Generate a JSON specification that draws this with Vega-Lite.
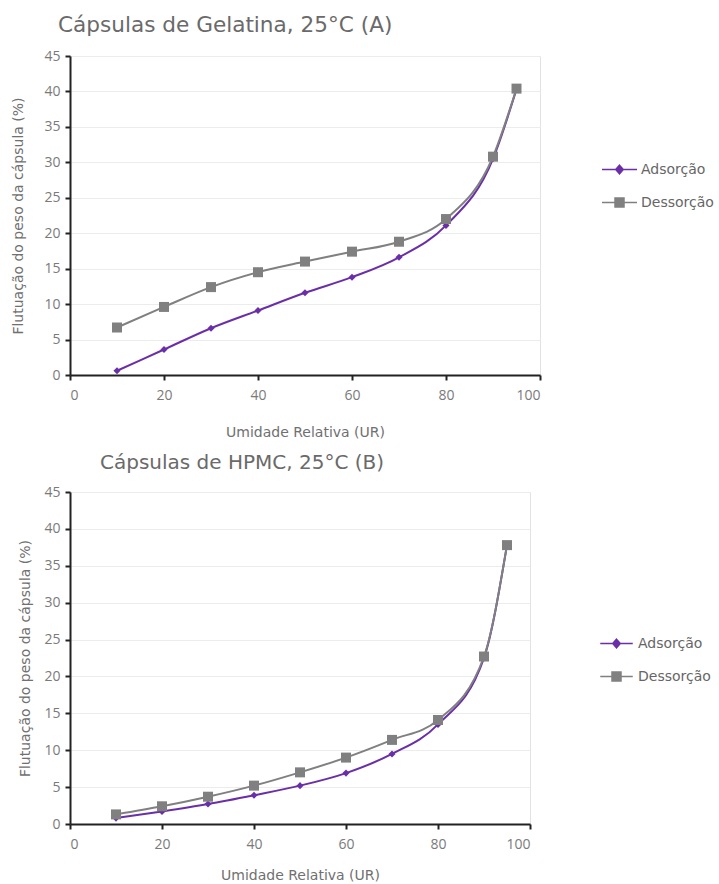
{
  "$schema": "https://vega.github.io/schema/vega-lite/v6.json",
  "padding": {"left": 11, "top": 14, "right": 0, "bottom": 0},
  "background": "white",
  "datasets": {
    "A": [
      {"ur": 10, "v": 0.6, "serie": "Adsorção"},
      {"ur": 20, "v": 3.6, "serie": "Adsorção"},
      {"ur": 30, "v": 6.6, "serie": "Adsorção"},
      {"ur": 40, "v": 9.1, "serie": "Adsorção"},
      {"ur": 50, "v": 11.6, "serie": "Adsorção"},
      {"ur": 60, "v": 13.8, "serie": "Adsorção"},
      {"ur": 70, "v": 16.6, "serie": "Adsorção"},
      {"ur": 80, "v": 21.1, "serie": "Adsorção"},
      {"ur": 90, "v": 30.5, "serie": "Adsorção"},
      {"ur": 95, "v": 40.3, "serie": "Adsorção"},
      {"ur": 10, "v": 6.7, "serie": "Dessorção"},
      {"ur": 20, "v": 9.6, "serie": "Dessorção"},
      {"ur": 30, "v": 12.4, "serie": "Dessorção"},
      {"ur": 40, "v": 14.5, "serie": "Dessorção"},
      {"ur": 50, "v": 16.0, "serie": "Dessorção"},
      {"ur": 60, "v": 17.4, "serie": "Dessorção"},
      {"ur": 70, "v": 18.8, "serie": "Dessorção"},
      {"ur": 80, "v": 22.0, "serie": "Dessorção"},
      {"ur": 90, "v": 30.8, "serie": "Dessorção"},
      {"ur": 95, "v": 40.4, "serie": "Dessorção"}
    ],
    "B": [
      {"ur": 10, "v": 0.8, "serie": "Adsorção"},
      {"ur": 20, "v": 1.7, "serie": "Adsorção"},
      {"ur": 30, "v": 2.7, "serie": "Adsorção"},
      {"ur": 40, "v": 3.9, "serie": "Adsorção"},
      {"ur": 50, "v": 5.2, "serie": "Adsorção"},
      {"ur": 60, "v": 6.9, "serie": "Adsorção"},
      {"ur": 70, "v": 9.5, "serie": "Adsorção"},
      {"ur": 80, "v": 13.5, "serie": "Adsorção"},
      {"ur": 90, "v": 22.5, "serie": "Adsorção"},
      {"ur": 95, "v": 37.8, "serie": "Adsorção"},
      {"ur": 10, "v": 1.3, "serie": "Dessorção"},
      {"ur": 20, "v": 2.4, "serie": "Dessorção"},
      {"ur": 30, "v": 3.7, "serie": "Dessorção"},
      {"ur": 40, "v": 5.2, "serie": "Dessorção"},
      {"ur": 50, "v": 7.0, "serie": "Dessorção"},
      {"ur": 60, "v": 9.0, "serie": "Dessorção"},
      {"ur": 70, "v": 11.4, "serie": "Dessorção"},
      {"ur": 80, "v": 14.1, "serie": "Dessorção"},
      {"ur": 90, "v": 22.7, "serie": "Dessorção"},
      {"ur": 95, "v": 37.8, "serie": "Dessorção"}
    ]
  },
  "config": {
    "view": {"stroke": "#e2e2e2", "strokeWidth": 1},
    "font": "Open Sans",
    "axis": {
      "labelFont": "Open Sans",
      "labelFontSize": 14,
      "labelColor": "#7a7a7a",
      "titleFont": "DejaVu Sans",
      "titleFontSize": 14,
      "titleFontWeight": "normal",
      "titleColor": "#707070",
      "domainColor": "#222",
      "domainWidth": 2,
      "tickColor": "#222",
      "tickWidth": 2,
      "tickSize": 5,
      "gridColor": "#ececec",
      "gridWidth": 1
    },
    "axisX": {"grid": false, "labelPadding": 8, "titlePadding": 23},
    "axisY": {"labelPadding": 5, "titlePadding": 18},
    "title": {
      "font": "DejaVu Sans",
      "fontSize": 20,
      "fontWeight": "normal",
      "color": "#6a6a6a",
      "anchor": "start",
      "frame": "group",
      "offset": 12
    },
    "legend": {
      "labelFont": "DejaVu Sans",
      "labelFontSize": 14,
      "labelColor": "#666",
      "symbolSize": 625,
      "rowPadding": 12,
      "labelOffset": 8,
      "title": null
    }
  },
  "spacing": 12,
  "vconcat": [
    {
      "title": {"text": "Cápsulas de Gelatina, 25°C (A)", "dx": -12, "fontSize": 21.6},
      "width": 470,
      "height": 319,
      "data": {"name": "A"},
      "encoding": {
        "x": {"field": "ur", "type": "quantitative", "scale": {"domain": [0, 100]}, "axis": {"values": [0, 20, 40, 60, 80, 100], "title": "Umidade Relativa (UR)"}},
        "y": {"field": "v", "type": "quantitative", "scale": {"domain": [0, 45]}, "axis": {"values": [0, 5, 10, 15, 20, 25, 30, 35, 40, 45], "title": "Flutuação do peso da cápsula (%)"}},
        "color": {
          "field": "serie", "type": "nominal",
          "scale": {"domain": ["Adsorção", "Dessorção"], "range": ["#6a2fa8", "#808080"]},
          "legend": {
            "orient": "none", "legendX": 536, "legendY": 100,
            "encode": {"symbols": {"update": {
              "shape": {"signal": "datum.value === 'Adsorção' ? 'M-1.4,0H1.4M0,-0.34L0.3,0L0,0.34L-0.3,0Z' : 'M-1.4,0H1.4M-0.36,-0.36H0.36V0.36H-0.36Z'"},
              "fill": {"signal": "datum.value === 'Adsorção' ? '#6a2fa8' : '#808080'"},
              "stroke": {"signal": "datum.value === 'Adsorção' ? '#8a5cc4' : '#808080'"},
              "strokeWidth": {"value": 1.5},
              "opacity": {"value": 1}
            }}}
          }
        }
      },
      "layer": [
        {"mark": {"type": "line", "interpolate": "monotone", "strokeWidth": 2}},
        {"mark": {"type": "point", "filled": true, "opacity": 1},
         "encoding": {
           "shape": {"condition": {"test": "datum.serie === 'Adsorção'", "value": "diamond"}, "value": "square"},
           "size": {"condition": {"test": "datum.serie === 'Adsorção'", "value": 50}, "value": 100}
         }}
      ]
    },
    {
      "title": {"text": "Cápsulas de HPMC, 25°C (B)", "dx": 30},
      "width": 460,
      "height": 332,
      "data": {"name": "B"},
      "encoding": {
        "x": {"field": "ur", "type": "quantitative", "scale": {"domain": [0, 100]}, "axis": {"values": [0, 20, 40, 60, 80, 100], "title": "Umidade Relativa (UR)", "titlePadding": 17}},
        "y": {"field": "v", "type": "quantitative", "scale": {"domain": [0, 45]}, "axis": {"values": [0, 5, 10, 15, 20, 25, 30, 35, 40, 45], "title": "Flutuação do peso da cápsula (%)", "titlePadding": 11}},
        "color": {
          "field": "serie", "type": "nominal",
          "scale": {"domain": ["Adsorção", "Dessorção"], "range": ["#6a2fa8", "#808080"]},
          "legend": {
            "orient": "none", "legendX": 533, "legendY": 138,
            "encode": {"symbols": {"update": {
              "shape": {"signal": "datum.value === 'Adsorção' ? 'M-1.3,0H1.3M0,-0.34L0.3,0L0,0.34L-0.3,0Z' : 'M-1.3,0H1.3M-0.36,-0.36H0.36V0.36H-0.36Z'"},
              "fill": {"signal": "datum.value === 'Adsorção' ? '#6a2fa8' : '#808080'"},
              "stroke": {"signal": "datum.value === 'Adsorção' ? '#8a5cc4' : '#808080'"},
              "strokeWidth": {"value": 1.5},
              "opacity": {"value": 1}
            }}}
          }
        }
      },
      "layer": [
        {"mark": {"type": "line", "interpolate": "monotone", "strokeWidth": 2}},
        {"mark": {"type": "point", "filled": true, "opacity": 1},
         "encoding": {
           "shape": {"condition": {"test": "datum.serie === 'Adsorção'", "value": "diamond"}, "value": "square"},
           "size": {"condition": {"test": "datum.serie === 'Adsorção'", "value": 50}, "value": 100}
         }}
      ]
    }
  ],
  "resolve": {"scale": {"color": "independent"}, "legend": {"color": "independent"}}
}
